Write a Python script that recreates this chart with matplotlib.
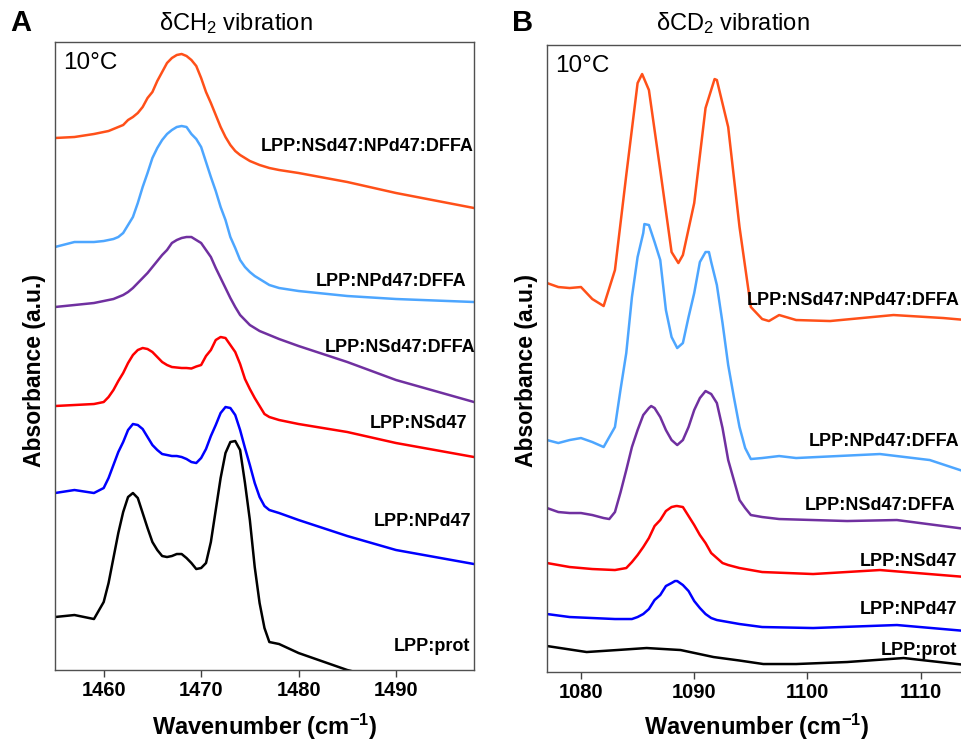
import matplotlib
matplotlib.use("Agg")
from matplotlib import pyplot as plt

plt.rcParams['font.family'] = ['Liberation Sans', 'DejaVu Sans']
plt.rcParams['mathtext.fontset'] = 'custom'
plt.rcParams['mathtext.rm'] = 'Liberation Sans'
plt.rcParams['mathtext.bf'] = 'Liberation Sans:bold'
plt.rcParams['mathtext.it'] = 'Liberation Sans:italic'

# ---- panel A: dCH2 region (common wavenumber grid) ----
wave_a = [1455, 1457, 1459,
          1460, 1460.5, 1461, 1461.5, 1462, 1462.5, 1463, 1463.5, 1464, 1464.5,
          1465, 1465.5, 1466, 1466.5, 1467, 1467.5, 1468, 1468.5, 1469, 1469.5,
          1470, 1470.5, 1471, 1471.5, 1472, 1472.5, 1473, 1473.5, 1474, 1474.5,
          1475, 1475.5, 1476, 1476.5, 1477,
          1478, 1480, 1485, 1490, 1498]
a_orange = [5.32, 5.33, 5.36,
            5.38, 5.39, 5.41, 5.43, 5.45, 5.50, 5.53, 5.57, 5.63, 5.72,
            5.78, 5.89, 5.98, 6.07, 6.12, 6.15, 6.16, 6.14, 6.10, 6.04,
            5.92, 5.78, 5.67, 5.55, 5.43, 5.33, 5.25, 5.19, 5.15, 5.12,
            5.09, 5.07, 5.05, 5.035, 5.02,
            5.00, 4.97, 4.88, 4.77, 4.62]
a_lblue = [4.23, 4.28, 4.28,
           4.29, 4.30, 4.31, 4.33, 4.37, 4.45, 4.53, 4.67, 4.83, 4.97,
           5.12, 5.22, 5.30, 5.36, 5.40, 5.43, 5.44, 5.43, 5.36, 5.31,
           5.23, 5.08, 4.93, 4.79, 4.63, 4.50, 4.33, 4.22, 4.10, 4.03,
           3.98, 3.94, 3.91, 3.88, 3.85,
           3.82, 3.79, 3.74, 3.71, 3.68]
a_purple = [3.63, 3.65, 3.67,
            3.69, 3.70, 3.71, 3.73, 3.75, 3.78, 3.82, 3.87, 3.92, 3.97,
            4.03, 4.09, 4.15, 4.20, 4.27, 4.30, 4.32, 4.33, 4.33, 4.30,
            4.27, 4.20, 4.13, 4.02, 3.92, 3.82, 3.72, 3.63, 3.55, 3.50,
            3.45, 3.42, 3.39, 3.37, 3.35,
            3.31, 3.24, 3.08, 2.90, 2.68]
a_red = [2.64, 2.65, 2.66,
         2.68, 2.73, 2.80, 2.89, 2.97, 3.07, 3.15, 3.20, 3.22, 3.21,
         3.18, 3.13, 3.08, 3.05, 3.03, 3.025, 3.02, 3.02, 3.015, 3.035,
         3.05, 3.14, 3.20, 3.30, 3.33, 3.32, 3.25, 3.18, 3.06, 2.91,
         2.81, 2.72, 2.64, 2.56, 2.53,
         2.50, 2.46, 2.38, 2.27, 2.13]
a_blue = [1.77, 1.80, 1.77,
          1.82, 1.92, 2.05, 2.18, 2.28, 2.40, 2.46, 2.45, 2.41, 2.33,
          2.25, 2.20, 2.16, 2.15, 2.14, 2.14, 2.13, 2.11, 2.08, 2.07,
          2.12, 2.21, 2.34, 2.45, 2.57, 2.63, 2.62, 2.55, 2.40, 2.22,
          2.05, 1.87, 1.73, 1.64, 1.60,
          1.57, 1.50, 1.34, 1.20, 1.06]
a_black = [0.53, 0.55, 0.51,
           0.68, 0.87, 1.12, 1.37, 1.58, 1.73, 1.77, 1.72, 1.57, 1.42,
           1.28, 1.20, 1.14, 1.13, 1.14, 1.16, 1.16, 1.12, 1.07, 1.01,
           1.02, 1.07, 1.28, 1.60, 1.92, 2.17, 2.28, 2.29, 2.20, 1.87,
           1.50, 1.03, 0.67, 0.42, 0.28,
           0.26, 0.17, 0.00, -0.12, -0.30]

# ---- panel B: dCD2 region ----
b_orange_x = [1077, 1078, 1079, 1080, 1081, 1082, 1083, 1084, 1085, 1085.4, 1086, 1087, 1088,
              1088.6, 1089, 1090, 1091, 1091.8, 1092, 1093, 1094, 1095, 1096, 1096.6, 1097.5,
              1099, 1102, 1107.6, 1112, 1114]
b_orange = [3.89, 3.85, 3.84, 3.85, 3.73, 3.66, 4.02, 4.97, 5.89, 5.98, 5.82, 5.02, 4.20,
            4.09, 4.17, 4.69, 5.64, 5.93, 5.92, 5.45, 4.45, 3.65, 3.53, 3.51, 3.57,
            3.52, 3.51, 3.57, 3.54, 3.52]
b_lblue_x = [1077, 1078, 1079, 1080, 1081, 1082, 1083, 1083.5, 1084, 1084.5, 1085, 1085.5,
             1085.6, 1086, 1086.5, 1087, 1087.5, 1088, 1088.5, 1089, 1089.5, 1090, 1090.5,
             1091, 1091.3, 1091.5, 1092, 1092.5, 1093, 1093.5, 1094, 1094.5, 1095, 1096,
             1097.5, 1099, 1106.4, 1110.8, 1114]
b_lblue = [2.32, 2.29, 2.32, 2.34, 2.30, 2.25, 2.45, 2.83, 3.19, 3.75, 4.15, 4.39,
           4.48, 4.47, 4.30, 4.12, 3.62, 3.35, 3.24, 3.29, 3.55, 3.79, 4.10,
           4.20, 4.20, 4.10, 3.87, 3.49, 3.07, 2.75, 2.45, 2.24, 2.13, 2.14,
           2.16, 2.14, 2.18, 2.12, 2.00]
b_purple_x = [1077, 1078, 1079, 1080, 1081, 1082, 1082.5, 1083, 1083.5, 1084, 1084.5, 1085,
              1085.5, 1086, 1086.2, 1086.5, 1087, 1087.5, 1088, 1088.5, 1089, 1089.5, 1090,
              1090.5, 1091, 1091.5, 1092, 1092.5, 1093, 1093.5, 1094, 1094.5, 1095, 1096,
              1097.5, 1103.5, 1107.9, 1114]
b_purple = [1.64, 1.60, 1.59, 1.59, 1.57, 1.54, 1.53, 1.60, 1.80, 2.02, 2.25, 2.42,
            2.57, 2.64, 2.66, 2.64, 2.55, 2.42, 2.32, 2.27, 2.32, 2.45, 2.62,
            2.74, 2.81, 2.78, 2.69, 2.44, 2.12, 1.92, 1.72, 1.64, 1.57, 1.55,
            1.53, 1.51, 1.52, 1.43]
b_red_x = [1077, 1079, 1081, 1083, 1083.5, 1084, 1084.5, 1085, 1085.5, 1086, 1086.5, 1087,
           1087.5, 1088, 1088.4, 1088.5, 1089, 1089.5, 1090, 1090.5, 1091, 1091.5, 1092,
           1092.5, 1093, 1094, 1096, 1100.5, 1106.4, 1114]
b_red = [1.09, 1.05, 1.03, 1.02, 1.03, 1.04, 1.10, 1.17, 1.25, 1.34, 1.46, 1.52,
         1.61, 1.65, 1.66, 1.66, 1.65, 1.56, 1.47, 1.37, 1.29, 1.19, 1.14,
         1.09, 1.07, 1.04, 1.00, 0.98, 1.02, 0.95]
b_blue_x = [1077, 1079, 1081, 1083, 1084, 1084.5, 1085, 1085.5, 1086, 1086.5, 1087, 1087.5,
            1088, 1088.3, 1088.5, 1089, 1089.5, 1090, 1090.5, 1091, 1091.5, 1092, 1094, 1096,
            1100.5, 1107.9, 1114]
b_blue = [0.58, 0.55, 0.54, 0.53, 0.53, 0.53, 0.55, 0.58, 0.63, 0.72, 0.77, 0.86,
          0.89, 0.91, 0.91, 0.87, 0.81, 0.71, 0.64, 0.58, 0.54, 0.52, 0.48, 0.45,
          0.44, 0.47, 0.41]
b_black_x = [1077, 1080.5, 1083.2, 1085.8, 1088.8, 1091.7, 1094, 1096.1, 1099, 1103.5, 1108.5, 1114]
b_black = [0.26, 0.20, 0.22, 0.24, 0.22, 0.15, 0.115, 0.08, 0.08, 0.10, 0.14, 0.07]

colors = ['#ff5019', '#4da6ff', '#7030a0', '#ff0000', '#0000ff', '#000000']
labels = ['LPP:NSd47:NPd47:DFFA', 'LPP:NPd47:DFFA', 'LPP:NSd47:DFFA',
          'LPP:NSd47', 'LPP:NPd47', 'LPP:prot']

# label anchors (right end) in axes fraction
lab_a = [(0.998, 0.833), (0.981, 0.618), (1.003, 0.513), (0.985, 0.393), (0.994, 0.236), (0.990, 0.037)]
lab_b = [(0.985, 0.593), (0.985, 0.367), (0.974, 0.265), (0.978, 0.177), (0.980, 0.100), (0.978, 0.035)]

fig = plt.figure(figsize=(9.61, 7.42), dpi=100)
ax_a = fig.add_axes([0.0572, 0.097, 0.436, 0.8464])
ax_b = fig.add_axes([0.5692, 0.0943, 0.436, 0.845])

for y, c in zip([a_orange, a_lblue, a_purple, a_red, a_blue, a_black], colors):
    ax_a.plot(wave_a, y, color=c, lw=1.8, solid_joinstyle='round')

series_b = [(b_orange_x, b_orange), (b_lblue_x, b_lblue), (b_purple_x, b_purple),
            (b_red_x, b_red), (b_blue_x, b_blue), (b_black_x, b_black)]
for (x, y), c in zip(series_b, colors):
    ax_b.plot(x, y, color=c, lw=1.8, solid_joinstyle='round')

ax_a.set_xlim(1455, 1498)
ax_a.set_ylim(0, 6.28)
ax_a.set_xticks([1460, 1470, 1480, 1490])
ax_b.set_xlim(1077, 1114)
ax_b.set_ylim(0, 6.27)
ax_b.set_xticks([1080, 1090, 1100, 1110])

for ax in (ax_a, ax_b):
    ax.set_yticks([])
    ax.tick_params(axis='x', direction='out', length=5, width=1, color='#404040',
                   labelsize=14.5, pad=3)
    for lbl in ax.get_xticklabels():
        lbl.set_fontweight('bold')
    for sp in ax.spines.values():
        sp.set_color('#505050')
        sp.set_linewidth(1.0)
    ax.text(0.019, 0.966, '10°C', transform=ax.transAxes, fontsize=17.5,
            ha='left', va='center')

for (xf, yf), t in zip(lab_a, labels):
    ax_a.text(xf, yf, t, transform=ax_a.transAxes, fontsize=13, fontweight='bold',
              ha='right', va='center', clip_on=False)
for (xf, yf), t in zip(lab_b, labels):
    ax_b.text(xf, yf, t, transform=ax_b.transAxes, fontsize=13, fontweight='bold',
              ha='right', va='center', clip_on=False)

fig.text(0.2456, 0.969, 'δCH$_2$ vibration', fontsize=17, ha='center', va='center')
fig.text(0.7627, 0.969, 'δCD$_2$ vibration', fontsize=17, ha='center', va='center')
fig.text(0.0105, 0.969, 'A', fontsize=21, fontweight='bold', ha='left', va='center')
fig.text(0.533, 0.969, 'B', fontsize=21, fontweight='bold', ha='left', va='center')

for xf in (0.0364, 0.548):
    fig.text(xf, 0.501, 'Absorbance (a.u.)', fontsize=16.5, fontweight='bold',
             rotation=90, ha='center', va='center')
for xf in (0.2758, 0.7877):
    fig.text(xf, 0.0202, r'Wavenumber (cm$^{\mathbf{-1}}$)', fontsize=17,
             fontweight='bold', ha='center', va='center')

fig.savefig('out.png', dpi=100)
